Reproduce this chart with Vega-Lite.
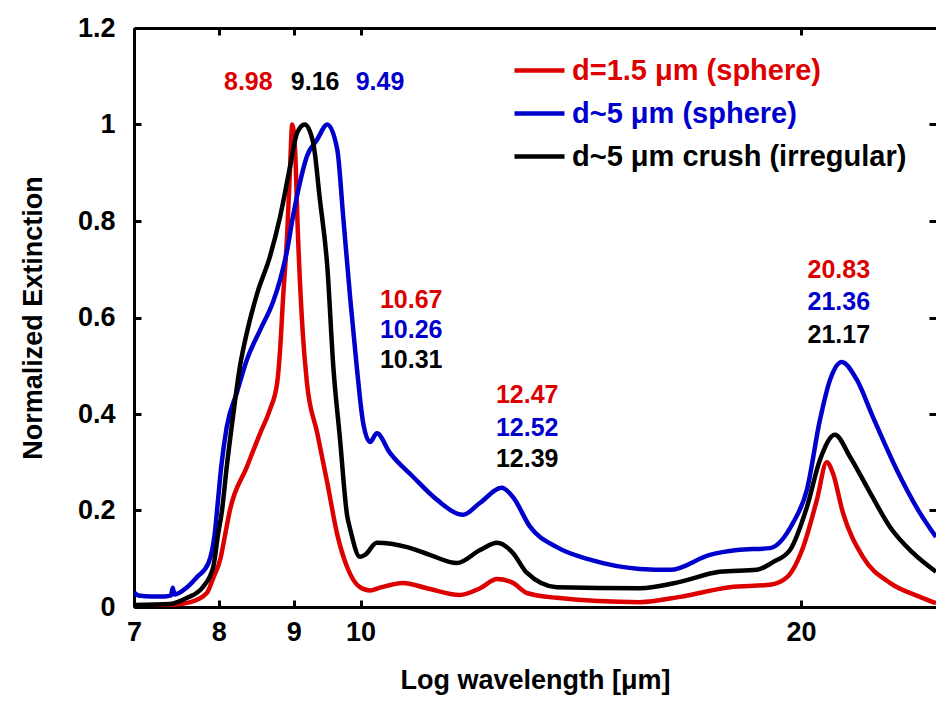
{
  "$schema": "https://vega.github.io/schema/vega-lite/v6.json",
  "width": 802,
  "height": 579,
  "autosize": "none",
  "padding": {"left": 134, "top": 28, "right": 0, "bottom": 96},
  "background": "white",
  "config": {
    "view": {"stroke": null},
    "font": "Liberation Sans",
    "axis": {
      "grid": false,
      "ticks": true,
      "domainColor": "black",
      "domainWidth": 3,
      "tickColor": "black",
      "tickWidth": 3,
      "tickSize": -7,
      "labelFont": "Liberation Sans",
      "labelFontSize": 27,
      "labelFontWeight": "bold",
      "labelColor": "black",
      "labelFlush": false,
      "labelOverlap": false,
      "titleFont": "Liberation Sans",
      "titleFontSize": 27,
      "titleFontWeight": "bold",
      "titleColor": "black"
    }
  },
  "datasets": {
    "curves": [
      {"sample": "d=1.5 μm (sphere)", "wavelength": 7.0, "extinction": 0.002},
      {"sample": "d=1.5 μm (sphere)", "wavelength": 7.41, "extinction": 0.004},
      {"sample": "d=1.5 μm (sphere)", "wavelength": 7.65, "extinction": 0.010},
      {"sample": "d=1.5 μm (sphere)", "wavelength": 7.85, "extinction": 0.029},
      {"sample": "d=1.5 μm (sphere)", "wavelength": 7.93, "extinction": 0.06},
      {"sample": "d=1.5 μm (sphere)", "wavelength": 8.02, "extinction": 0.10},
      {"sample": "d=1.5 μm (sphere)", "wavelength": 8.08, "extinction": 0.15},
      {"sample": "d=1.5 μm (sphere)", "wavelength": 8.14, "extinction": 0.20},
      {"sample": "d=1.5 μm (sphere)", "wavelength": 8.36, "extinction": 0.290},
      {"sample": "d=1.5 μm (sphere)", "wavelength": 8.54, "extinction": 0.361},
      {"sample": "d=1.5 μm (sphere)", "wavelength": 8.67, "extinction": 0.409},
      {"sample": "d=1.5 μm (sphere)", "wavelength": 8.77, "extinction": 0.465},
      {"sample": "d=1.5 μm (sphere)", "wavelength": 8.81, "extinction": 0.533},
      {"sample": "d=1.5 μm (sphere)", "wavelength": 8.85, "extinction": 0.637},
      {"sample": "d=1.5 μm (sphere)", "wavelength": 8.91, "extinction": 0.776},
      {"sample": "d=1.5 μm (sphere)", "wavelength": 8.95, "extinction": 0.913},
      {"sample": "d=1.5 μm (sphere)", "wavelength": 8.98, "extinction": 1.0},
      {"sample": "d=1.5 μm (sphere)", "wavelength": 9.02, "extinction": 0.948},
      {"sample": "d=1.5 μm (sphere)", "wavelength": 9.06, "extinction": 0.776},
      {"sample": "d=1.5 μm (sphere)", "wavelength": 9.13, "extinction": 0.568},
      {"sample": "d=1.5 μm (sphere)", "wavelength": 9.19, "extinction": 0.465},
      {"sample": "d=1.5 μm (sphere)", "wavelength": 9.34, "extinction": 0.361},
      {"sample": "d=1.5 μm (sphere)", "wavelength": 9.49, "extinction": 0.257},
      {"sample": "d=1.5 μm (sphere)", "wavelength": 9.64, "extinction": 0.150},
      {"sample": "d=1.5 μm (sphere)", "wavelength": 9.79, "extinction": 0.083},
      {"sample": "d=1.5 μm (sphere)", "wavelength": 9.99, "extinction": 0.041},
      {"sample": "d=1.5 μm (sphere)", "wavelength": 10.15, "extinction": 0.034},
      {"sample": "d=1.5 μm (sphere)", "wavelength": 10.31, "extinction": 0.040},
      {"sample": "d=1.5 μm (sphere)", "wavelength": 10.69, "extinction": 0.050},
      {"sample": "d=1.5 μm (sphere)", "wavelength": 11.10, "extinction": 0.039},
      {"sample": "d=1.5 μm (sphere)", "wavelength": 11.69, "extinction": 0.025},
      {"sample": "d=1.5 μm (sphere)", "wavelength": 12.07, "extinction": 0.039},
      {"sample": "d=1.5 μm (sphere)", "wavelength": 12.40, "extinction": 0.058},
      {"sample": "d=1.5 μm (sphere)", "wavelength": 12.71, "extinction": 0.050},
      {"sample": "d=1.5 μm (sphere)", "wavelength": 12.99, "extinction": 0.029},
      {"sample": "d=1.5 μm (sphere)", "wavelength": 13.62, "extinction": 0.019},
      {"sample": "d=1.5 μm (sphere)", "wavelength": 15.52, "extinction": 0.010},
      {"sample": "d=1.5 μm (sphere)", "wavelength": 16.53, "extinction": 0.021},
      {"sample": "d=1.5 μm (sphere)", "wavelength": 17.88, "extinction": 0.041},
      {"sample": "d=1.5 μm (sphere)", "wavelength": 19.05, "extinction": 0.046},
      {"sample": "d=1.5 μm (sphere)", "wavelength": 19.57, "extinction": 0.062},
      {"sample": "d=1.5 μm (sphere)", "wavelength": 20.07, "extinction": 0.124},
      {"sample": "d=1.5 μm (sphere)", "wavelength": 20.51, "extinction": 0.222},
      {"sample": "d=1.5 μm (sphere)", "wavelength": 20.83, "extinction": 0.300},
      {"sample": "d=1.5 μm (sphere)", "wavelength": 21.03, "extinction": 0.278},
      {"sample": "d=1.5 μm (sphere)", "wavelength": 21.37, "extinction": 0.195},
      {"sample": "d=1.5 μm (sphere)", "wavelength": 22.05, "extinction": 0.104},
      {"sample": "d=1.5 μm (sphere)", "wavelength": 23.01, "extinction": 0.050},
      {"sample": "d=1.5 μm (sphere)", "wavelength": 24.12, "extinction": 0.021},
      {"sample": "d=1.5 μm (sphere)", "wavelength": 24.74, "extinction": 0.008},

      {"sample": "d~5 μm (sphere)", "wavelength": 7.0, "extinction": 0.030},
      {"sample": "d~5 μm (sphere)", "wavelength": 7.05, "extinction": 0.024},
      {"sample": "d~5 μm (sphere)", "wavelength": 7.2, "extinction": 0.022},
      {"sample": "d~5 μm (sphere)", "wavelength": 7.35, "extinction": 0.022},
      {"sample": "d~5 μm (sphere)", "wavelength": 7.42, "extinction": 0.024},
      {"sample": "d~5 μm (sphere)", "wavelength": 7.44, "extinction": 0.040},
      {"sample": "d~5 μm (sphere)", "wavelength": 7.46, "extinction": 0.026},
      {"sample": "d~5 μm (sphere)", "wavelength": 7.61, "extinction": 0.041},
      {"sample": "d~5 μm (sphere)", "wavelength": 7.73, "extinction": 0.062},
      {"sample": "d~5 μm (sphere)", "wavelength": 7.87, "extinction": 0.091},
      {"sample": "d~5 μm (sphere)", "wavelength": 7.95, "extinction": 0.154},
      {"sample": "d~5 μm (sphere)", "wavelength": 7.99, "extinction": 0.222},
      {"sample": "d~5 μm (sphere)", "wavelength": 8.03, "extinction": 0.290},
      {"sample": "d~5 μm (sphere)", "wavelength": 8.10, "extinction": 0.373},
      {"sample": "d~5 μm (sphere)", "wavelength": 8.23, "extinction": 0.444},
      {"sample": "d~5 μm (sphere)", "wavelength": 8.36, "extinction": 0.512},
      {"sample": "d~5 μm (sphere)", "wavelength": 8.54, "extinction": 0.575},
      {"sample": "d~5 μm (sphere)", "wavelength": 8.71, "extinction": 0.631},
      {"sample": "d~5 μm (sphere)", "wavelength": 8.81, "extinction": 0.678},
      {"sample": "d~5 μm (sphere)", "wavelength": 8.91, "extinction": 0.741},
      {"sample": "d~5 μm (sphere)", "wavelength": 8.99, "extinction": 0.809},
      {"sample": "d~5 μm (sphere)", "wavelength": 9.09, "extinction": 0.880},
      {"sample": "d~5 μm (sphere)", "wavelength": 9.19, "extinction": 0.934},
      {"sample": "d~5 μm (sphere)", "wavelength": 9.34, "extinction": 0.969},
      {"sample": "d~5 μm (sphere)", "wavelength": 9.49, "extinction": 1.0},
      {"sample": "d~5 μm (sphere)", "wavelength": 9.64, "extinction": 0.948},
      {"sample": "d~5 μm (sphere)", "wavelength": 9.73, "extinction": 0.809},
      {"sample": "d~5 μm (sphere)", "wavelength": 9.84, "extinction": 0.637},
      {"sample": "d~5 μm (sphere)", "wavelength": 9.94, "extinction": 0.498},
      {"sample": "d~5 μm (sphere)", "wavelength": 10.04, "extinction": 0.382},
      {"sample": "d~5 μm (sphere)", "wavelength": 10.15, "extinction": 0.342},
      {"sample": "d~5 μm (sphere)", "wavelength": 10.26, "extinction": 0.360},
      {"sample": "d~5 μm (sphere)", "wavelength": 10.47, "extinction": 0.320},
      {"sample": "d~5 μm (sphere)", "wavelength": 10.86, "extinction": 0.270},
      {"sample": "d~5 μm (sphere)", "wavelength": 11.28, "extinction": 0.222},
      {"sample": "d~5 μm (sphere)", "wavelength": 11.75, "extinction": 0.191},
      {"sample": "d~5 μm (sphere)", "wavelength": 12.07, "extinction": 0.216},
      {"sample": "d~5 μm (sphere)", "wavelength": 12.49, "extinction": 0.247},
      {"sample": "d~5 μm (sphere)", "wavelength": 12.71, "extinction": 0.228},
      {"sample": "d~5 μm (sphere)", "wavelength": 13.06, "extinction": 0.166},
      {"sample": "d~5 μm (sphere)", "wavelength": 13.62, "extinction": 0.124},
      {"sample": "d~5 μm (sphere)", "wavelength": 14.35, "extinction": 0.098},
      {"sample": "d~5 μm (sphere)", "wavelength": 15.52, "extinction": 0.079},
      {"sample": "d~5 μm (sphere)", "wavelength": 16.28, "extinction": 0.077},
      {"sample": "d~5 μm (sphere)", "wavelength": 17.33, "extinction": 0.108},
      {"sample": "d~5 μm (sphere)", "wavelength": 18.09, "extinction": 0.118},
      {"sample": "d~5 μm (sphere)", "wavelength": 19.05, "extinction": 0.122},
      {"sample": "d~5 μm (sphere)", "wavelength": 19.75, "extinction": 0.174},
      {"sample": "d~5 μm (sphere)", "wavelength": 20.19, "extinction": 0.243},
      {"sample": "d~5 μm (sphere)", "wavelength": 20.61, "extinction": 0.388},
      {"sample": "d~5 μm (sphere)", "wavelength": 20.94, "extinction": 0.471},
      {"sample": "d~5 μm (sphere)", "wavelength": 21.33, "extinction": 0.508},
      {"sample": "d~5 μm (sphere)", "wavelength": 21.84, "extinction": 0.471},
      {"sample": "d~5 μm (sphere)", "wavelength": 22.40, "extinction": 0.394},
      {"sample": "d~5 μm (sphere)", "wavelength": 23.26, "extinction": 0.284},
      {"sample": "d~5 μm (sphere)", "wavelength": 24.12, "extinction": 0.195},
      {"sample": "d~5 μm (sphere)", "wavelength": 24.74, "extinction": 0.145},

      {"sample": "d~5 μm crush (irregular)", "wavelength": 7.0, "extinction": 0.004},
      {"sample": "d~5 μm crush (irregular)", "wavelength": 7.41, "extinction": 0.006},
      {"sample": "d~5 μm crush (irregular)", "wavelength": 7.61, "extinction": 0.019},
      {"sample": "d~5 μm crush (irregular)", "wavelength": 7.80, "extinction": 0.041},
      {"sample": "d~5 μm crush (irregular)", "wavelength": 7.93, "extinction": 0.083},
      {"sample": "d~5 μm crush (irregular)", "wavelength": 7.99, "extinction": 0.150},
      {"sample": "d~5 μm crush (irregular)", "wavelength": 8.04, "extinction": 0.200},
      {"sample": "d~5 μm crush (irregular)", "wavelength": 8.10, "extinction": 0.290},
      {"sample": "d~5 μm crush (irregular)", "wavelength": 8.18, "extinction": 0.394},
      {"sample": "d~5 μm crush (irregular)", "wavelength": 8.27, "extinction": 0.498},
      {"sample": "d~5 μm crush (irregular)", "wavelength": 8.36, "extinction": 0.568},
      {"sample": "d~5 μm crush (irregular)", "wavelength": 8.50, "extinction": 0.651},
      {"sample": "d~5 μm crush (irregular)", "wavelength": 8.67, "extinction": 0.726},
      {"sample": "d~5 μm crush (irregular)", "wavelength": 8.81, "extinction": 0.809},
      {"sample": "d~5 μm crush (irregular)", "wavelength": 8.95, "extinction": 0.913},
      {"sample": "d~5 μm crush (irregular)", "wavelength": 9.05, "extinction": 0.983},
      {"sample": "d~5 μm crush (irregular)", "wavelength": 9.16, "extinction": 1.0},
      {"sample": "d~5 μm crush (irregular)", "wavelength": 9.28, "extinction": 0.963},
      {"sample": "d~5 μm crush (irregular)", "wavelength": 9.38, "extinction": 0.844},
      {"sample": "d~5 μm crush (irregular)", "wavelength": 9.49, "extinction": 0.705},
      {"sample": "d~5 μm crush (irregular)", "wavelength": 9.58, "extinction": 0.498},
      {"sample": "d~5 μm crush (irregular)", "wavelength": 9.68, "extinction": 0.350},
      {"sample": "d~5 μm crush (irregular)", "wavelength": 9.79, "extinction": 0.190},
      {"sample": "d~5 μm crush (irregular)", "wavelength": 9.84, "extinction": 0.160},
      {"sample": "d~5 μm crush (irregular)", "wavelength": 9.99, "extinction": 0.104},
      {"sample": "d~5 μm crush (irregular)", "wavelength": 10.07, "extinction": 0.108},
      {"sample": "d~5 μm crush (irregular)", "wavelength": 10.26, "extinction": 0.133},
      {"sample": "d~5 μm crush (irregular)", "wavelength": 10.76, "extinction": 0.124},
      {"sample": "d~5 μm crush (irregular)", "wavelength": 11.15, "extinction": 0.108},
      {"sample": "d~5 μm crush (irregular)", "wavelength": 11.64, "extinction": 0.091},
      {"sample": "d~5 μm crush (irregular)", "wavelength": 12.07, "extinction": 0.118},
      {"sample": "d~5 μm crush (irregular)", "wavelength": 12.40, "extinction": 0.133},
      {"sample": "d~5 μm crush (irregular)", "wavelength": 12.71, "extinction": 0.112},
      {"sample": "d~5 μm crush (irregular)", "wavelength": 12.99, "extinction": 0.071},
      {"sample": "d~5 μm crush (irregular)", "wavelength": 13.62, "extinction": 0.041},
      {"sample": "d~5 μm crush (irregular)", "wavelength": 15.52, "extinction": 0.039},
      {"sample": "d~5 μm crush (irregular)", "wavelength": 16.53, "extinction": 0.052},
      {"sample": "d~5 μm crush (irregular)", "wavelength": 17.60, "extinction": 0.073},
      {"sample": "d~5 μm crush (irregular)", "wavelength": 18.66, "extinction": 0.077},
      {"sample": "d~5 μm crush (irregular)", "wavelength": 19.14, "extinction": 0.093},
      {"sample": "d~5 μm crush (irregular)", "wavelength": 19.66, "extinction": 0.118},
      {"sample": "d~5 μm crush (irregular)", "wavelength": 20.19, "extinction": 0.207},
      {"sample": "d~5 μm crush (irregular)", "wavelength": 20.61, "extinction": 0.305},
      {"sample": "d~5 μm crush (irregular)", "wavelength": 21.10, "extinction": 0.357},
      {"sample": "d~5 μm crush (irregular)", "wavelength": 21.61, "extinction": 0.311},
      {"sample": "d~5 μm crush (irregular)", "wavelength": 22.30, "extinction": 0.237},
      {"sample": "d~5 μm crush (irregular)", "wavelength": 23.01, "extinction": 0.166},
      {"sample": "d~5 μm crush (irregular)", "wavelength": 23.86, "extinction": 0.112},
      {"sample": "d~5 μm crush (irregular)", "wavelength": 24.74, "extinction": 0.073}
    ],
    "peaks": [
      {"sample": "d=1.5 μm (sphere)", "label": "8.98", "wavelength": 8.38, "extinction": 1.089},
      {"sample": "d~5 μm crush (irregular)", "label": "9.16", "wavelength": 9.31, "extinction": 1.089},
      {"sample": "d~5 μm (sphere)", "label": "9.49", "wavelength": 10.31, "extinction": 1.089},
      {"sample": "d=1.5 μm (sphere)", "label": "10.67", "wavelength": 10.83, "extinction": 0.637},
      {"sample": "d~5 μm (sphere)", "label": "10.26", "wavelength": 10.83, "extinction": 0.575},
      {"sample": "d~5 μm crush (irregular)", "label": "10.31", "wavelength": 10.83, "extinction": 0.512},
      {"sample": "d=1.5 μm (sphere)", "label": "12.47", "wavelength": 13.0, "extinction": 0.440},
      {"sample": "d~5 μm (sphere)", "label": "12.52", "wavelength": 13.0, "extinction": 0.371},
      {"sample": "d~5 μm crush (irregular)", "label": "12.39", "wavelength": 13.0, "extinction": 0.307},
      {"sample": "d=1.5 μm (sphere)", "label": "20.83", "wavelength": 21.23, "extinction": 0.699},
      {"sample": "d~5 μm (sphere)", "label": "21.36", "wavelength": 21.23, "extinction": 0.633},
      {"sample": "d~5 μm crush (irregular)", "label": "21.17", "wavelength": 21.23, "extinction": 0.564}
    ]
  },
  "layer": [
    {
      "data": {"name": "curves"},
      "mark": {"type": "line", "strokeWidth": 4.5, "interpolate": "monotone", "clip": true},
      "encoding": {
        "x": {
          "field": "wavelength", "type": "quantitative",
          "scale": {"type": "log", "domain": [7, 24.74], "nice": false},
          "axis": {"orient": "bottom", "values": [7, 8, 9, 10, 20], "format": "~g", "title": "Log wavelength [μm]", "tickSize": -7, "labelPadding": 19, "titlePadding": 22}
        },
        "y": {
          "field": "extinction", "type": "quantitative",
          "scale": {"domain": [0, 1.2], "nice": false},
          "axis": {"orient": "left", "values": [0, 0.2, 0.4, 0.6, 0.8, 1, 1.2], "format": "~g", "title": "Normalized Extinction", "tickSize": -7, "labelPadding": 26, "titlePadding": 30}
        },
        "color": {
          "field": "sample", "type": "nominal",
          "scale": {"domain": ["d=1.5 μm (sphere)", "d~5 μm (sphere)", "d~5 μm crush (irregular)"], "range": ["#dd0000", "#0000cc", "#000000"]},
          "legend": {
            "orient": "none", "legendX": 378, "legendY": 15, "title": null,
            "symbolType": "stroke", "symbolSize": 2500, "symbolStrokeWidth": 4.5,
            "labelFont": "Liberation Sans", "labelFontSize": 29, "labelFontWeight": "bold",
            "labelLimit": 600, "labelOffset": 5, "rowPadding": -5,
            "encode": {"labels": {"update": {"fill": {"scale": "color", "field": "value"}}}}
          }
        }
      }
    },
    {
      "data": {"name": "peaks"},
      "mark": {"type": "text", "font": "Liberation Sans", "fontSize": 25, "fontWeight": "bold", "align": "center", "baseline": "middle"},
      "encoding": {
        "x": {"field": "wavelength", "type": "quantitative", "axis": {"orient": "top", "values": [7, 8, 9, 10, 20], "labels": false, "title": null, "tickSize": -7}},
        "y": {"field": "extinction", "type": "quantitative", "axis": {"orient": "right", "values": [0, 0.2, 0.4, 0.6, 0.8, 1, 1.2], "labels": false, "domain": false, "title": null, "tickSize": -7}},
        "text": {"field": "label"},
        "color": {"field": "sample", "type": "nominal", "legend": null}
      }
    }
  ],
  "resolve": {"axis": {"x": "independent", "y": "independent"}}
}
